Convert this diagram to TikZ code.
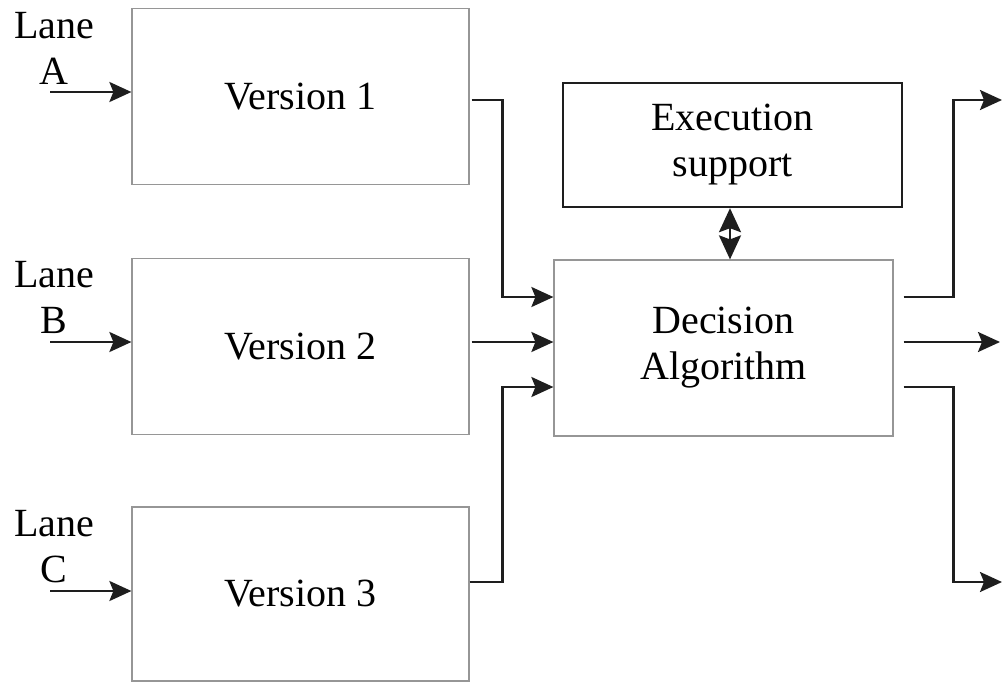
\documentclass[tikz,border=0pt]{standalone}
\usepackage{fontspec}
\setmainfont{Liberation Serif}
\usepackage{tikz}
\usetikzlibrary{arrows.meta}
\definecolor{boxgray}{RGB}{150,150,150}
\definecolor{linedark}{RGB}{30,30,30}

\begin{document}
\begin{tikzpicture}[x=1pt,y=-1pt,
  font=\fontsize{40}{46}\selectfont,
  version/.style={draw=boxgray,line width=1.2pt,minimum width=337pt,minimum height=176pt,inner sep=0pt},
  support/.style={draw=linedark,line width=2.4pt,minimum width=339pt,minimum height=124pt,align=center},
  lane/.style={align=center,inner sep=0pt},
  arr/.style={draw=linedark,line width=2.4pt,-{Stealth[length=22pt,width=20pt,inset=4pt]}},
  biarr/.style={draw=linedark,line width=2.4pt,{Stealth[length=24pt,width=22pt,inset=4pt]}-{Stealth[length=24pt,width=22pt,inset=4pt]}}]
\useasboundingbox (0,0) rectangle (1002,683);

\node [version] (v1) at (300.5,96.5) {Version 1};
\node [version] (v2) at (300.5,346.5) {Version 2};
\node [version,minimum height=174pt] (v3) at (300.5,594) {Version 3};
\node [support] (exec) at (732.5,145) {Execution\\support};
\node [version,minimum width=339pt,align=center] (dec) at (723.5,348) {Decision\\Algorithm};

\node [lane] (laneA) at (54,48) {Lane\\A};
\node [lane] (laneB) at (54,297) {Lane\\B};
\node [lane] (laneC) at (54,547) {Lane\\C};

\coordinate (inA) at (50,92);
\coordinate (inB) at (50,342);
\coordinate (inC) at (50,591);
\coordinate (outA) at (1002,100);
\coordinate (outB) at (1000,342);
\coordinate (outC) at (1002,582);

\draw [arr] (inA) -- (inA -| v1.west);
\draw [arr] (inB) -- (inB -| v2.west);
\draw [arr] (inC) -- (inC -| v3.west);

\draw [arr] ([shift={(2,3.5)}]v1.east) -- ++(31,0) |- ([yshift=51]dec.west);
\draw [arr] ([shift={(2,-4.5)}]v2.east) -- ([yshift=6]dec.west);
\draw [arr] ([yshift=12]v3.east) -- ++(33,0) |- ([yshift=-39]dec.west);

\draw [biarr] (exec.south -| 730,0) -- (dec.north -| 730,0);

\draw [arr] ([shift={(10,-51)}]dec.east) -- ++(50,0) |- (outA);
\draw [arr] ([shift={(10,-6)}]dec.east) -- (outB);
\draw [arr] ([shift={(10,39)}]dec.east) -- ++(50,0) |- (outC);
\end{tikzpicture}
\end{document}
